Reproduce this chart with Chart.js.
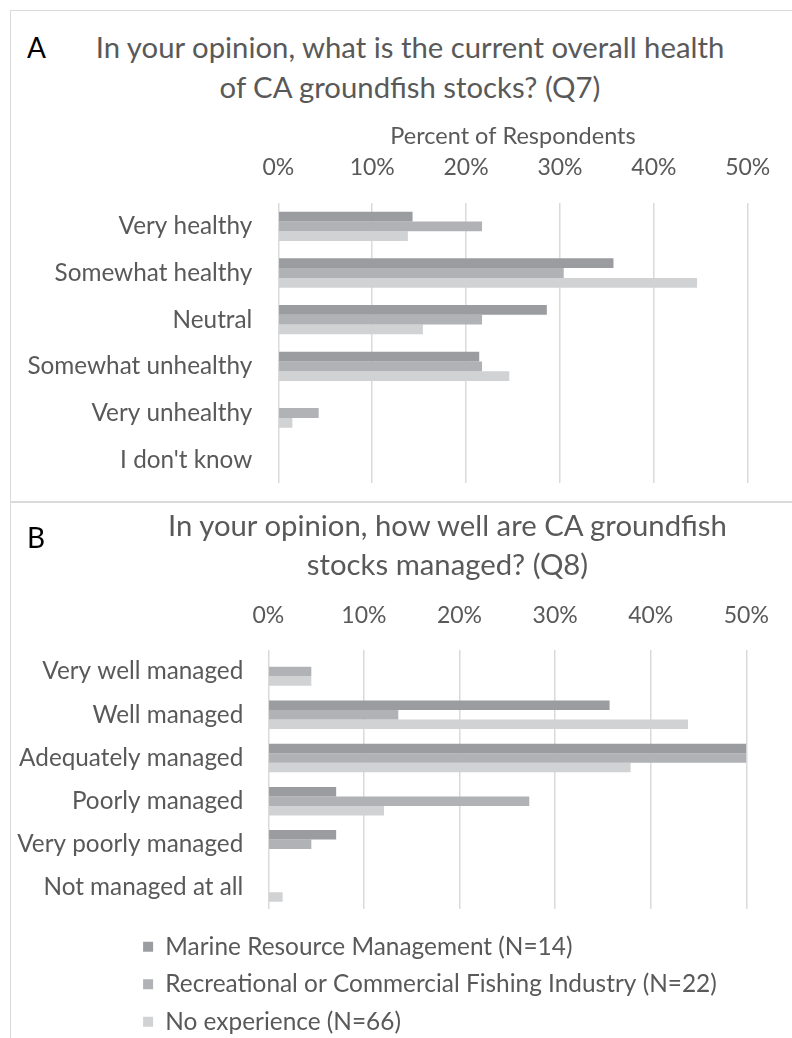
<!DOCTYPE html>
<html>
<head>
<meta charset="utf-8">
<script src="https://cdn.jsdelivr.net/npm/chart.js@4"></script>
<style>
  body { margin: 0; width: 792px; height: 1038px; overflow: hidden; background: #fff; position: relative; font-family: Lato, sans-serif; }
  .rule { position: absolute; background: #dadada; }
  .letter { position: absolute; font-size: 28px; line-height: 28px; color: #000; }
  .question { position: absolute; left: 0; text-align: center; color: #595959; font-size: 29.3px; white-space: nowrap; }
  canvas { position: absolute; left: 0; }
</style>
</head>
<body>
<div class="rule" style="left:10px;top:10px;width:782px;height:1px"></div>
<div class="rule" style="left:10px;top:10px;width:1px;height:1028px"></div>
<div class="rule" style="left:10px;top:501px;width:782px;height:2px"></div>

<div class="letter" style="left:27px;top:33px">A</div>
<div class="question" style="top:26.6px;width:820px;line-height:40px">In your opinion, what is the current overall health<br>of CA groundfish stocks? (Q7)</div>
<canvas id="health" width="792" height="540" style="top:0"></canvas>

<div class="letter" style="left:27px;top:523px">B</div>
<div class="question" style="top:505px;width:895px;line-height:39px">In your opinion, how well are CA groundfish<br>stocks managed? (Q8)</div>
<canvas id="managed" width="792" height="560" style="top:502px"></canvas>

<script>
const healthCategories = ['Very healthy', 'Somewhat healthy', 'Neutral', 'Somewhat unhealthy', 'Very unhealthy', "I don't know"];
const healthMarine = [14.3, 35.7, 28.6, 21.4, 0, 0];
const healthFishing = [21.7, 30.4, 21.7, 21.7, 4.3, 0];
const healthNone = [13.8, 44.6, 15.4, 24.6, 1.5, 0];

const managedCategories = ['Very well managed', 'Well managed', 'Adequately managed', 'Poorly managed', 'Very poorly managed', 'Not managed at all'];
const managedMarine = [0, 35.7, 50, 7.1, 7.1, 0];
const managedFishing = [4.5, 13.6, 50, 27.3, 4.5, 0];
const managedNone = [4.5, 43.9, 37.9, 12.1, 0, 1.5];

const groupNames = ['Marine Resource Management (N=14)', 'Recreational or Commercial Fishing Industry (N=22)', 'No experience (N=66)'];
const percentTicks = [0, 10, 20, 30, 40, 50];

const groupColors = ['#9b9c9f', '#b1b2b5', '#d1d2d4'];
const textColor = '#595959';
const gridColor = '#dadada';

Chart.defaults.font.family = 'Lato, sans-serif';
Chart.defaults.color = textColor;

// pushes the bottom legend to the right without touching the plot
const legendIndent = {
    id: 'legendIndent',
    afterLayout(chart, args, options) {
        if (chart.legend && options.x) {
            chart.legend.left += options.x;
            chart.legend.right += options.x;
        }
    }
};

function datasetsFor(series) {
    return series.map((values, i) => ({
        label: groupNames[i],
        data: values,
        backgroundColor: groupColors[i],
        borderWidth: 0
    }));
}

function percentAxis(height, tickPadding, title) {
    return {
        position: 'top',
        min: 0,
        max: 50,
        afterBuildTicks: scale => { scale.ticks = percentTicks.map(v => ({ value: v })); },
        afterFit: scale => { scale.height = height; },
        grid: { color: gridColor, lineWidth: 1.5, drawTicks: false },
        border: { display: false },
        ticks: { padding: tickPadding, maxRotation: 0, font: { size: 23 }, callback: v => v + '%' },
        title: title
    };
}

function categoryAxis(width, tickPadding) {
    return {
        afterFit: scale => { scale.width = width; },
        grid: { display: false, drawTicks: false },
        border: { display: false },
        ticks: { padding: tickPadding, font: { size: 24.3 } }
    };
}

// Q7: stock health
new Chart(document.getElementById('health'), {
    type: 'bar',
    data: { labels: healthCategories, datasets: datasetsFor([healthMarine, healthFishing, healthNone]) },
    options: {
        indexAxis: 'y',
        responsive: false,
        animation: false,
        layout: { padding: { left: 10, right: 38, top: 100, bottom: 57 } },
        datasets: { bar: { categoryPercentage: 0.63, barPercentage: 1 } },
        plugins: { legend: { display: false }, tooltip: { enabled: false } },
        scales: {
            x: percentAxis(103, 21.7, {
                display: true,
                text: 'Percent of Respondents',
                font: { size: 23.5 },
                padding: { top: 22, bottom: 0 }
            }),
            y: categoryAxis(268.3, 26)
        }
    }
});

// Q8: management, with the shared legend underneath
new Chart(document.getElementById('managed'), {
    type: 'bar',
    data: { labels: managedCategories, datasets: datasetsFor([managedMarine, managedFishing, managedNone]) },
    options: {
        indexAxis: 'y',
        responsive: false,
        animation: false,
        layout: { padding: { left: 10, right: 45.7, top: 80, bottom: 18 } },
        datasets: { bar: { categoryPercentage: 0.66, barPercentage: 1 } },
        plugins: {
            tooltip: { enabled: false },
            legendIndent: { x: 120 },
            legend: {
                position: 'bottom',
                align: 'start',
                // empty title only used as a spacer above the first row
                title: { display: true, text: ' ', font: { size: 1 }, padding: { top: 11.2, bottom: 0 } },
                labels: { boxWidth: 10, boxHeight: 10, padding: 13.1, color: textColor, font: { size: 24.4 } }
            }
        },
        scales: {
            x: percentAxis(68, 20.2, { display: false }),
            y: categoryAxis(258.3, 25)
        }
    },
    plugins: [legendIndent]
});
</script>
</body>
</html>
